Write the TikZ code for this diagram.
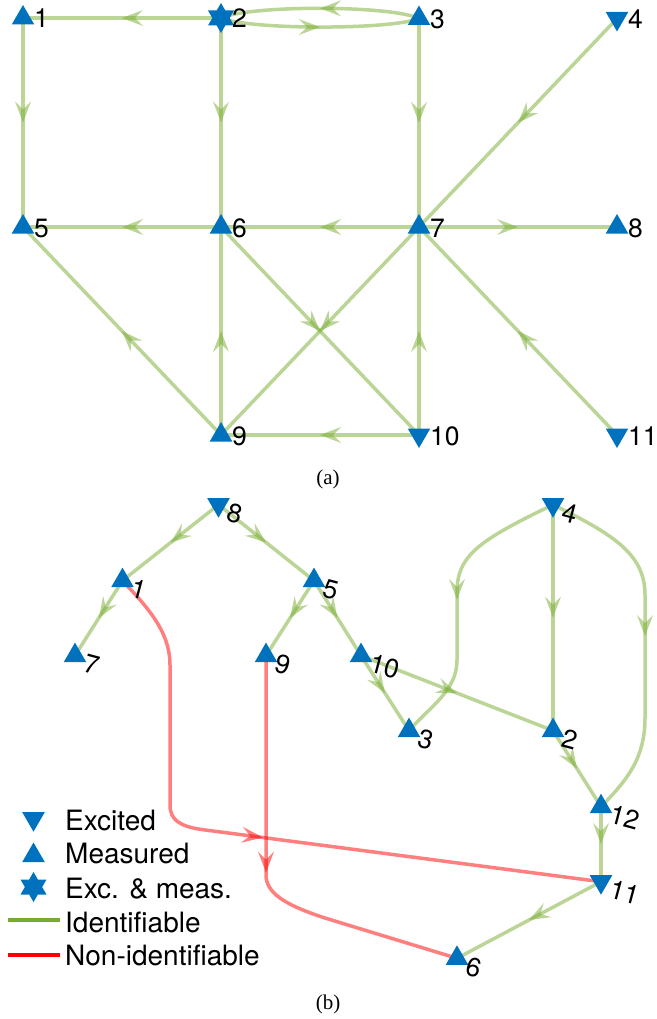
\documentclass[tikz,border=0pt]{standalone}
\usepackage{fontspec}
\setmainfont{TeX Gyre Heros}
\newfontfamily\capfont{Liberation Serif}
\usetikzlibrary{shapes.geometric,decorations.markings}
\definecolor{mblue}{HTML}{0072BD}
\definecolor{egreen}{RGB}{119,172,48}
\definecolor{ered}{RGB}{255,0,0}
\tikzset{
  edgeline/.style={line width=3.5pt, draw opacity=0.5},
  gedge/.style={edgeline, draw=egreen},
  redge/.style={edgeline, draw=ered},
  gmid/.style={postaction={decorate, decoration={markings, mark=at position #1 with {\fill[egreen, fill opacity=0.5] (0pt,0pt) -- (-21pt,8pt) -- (-13pt,0pt) -- (-21pt,-8pt) -- cycle;}}}},
  rmid/.style={postaction={decorate, decoration={markings, mark=at position #1 with {\fill[ered, fill opacity=0.5] (0pt,0pt) -- (-21pt,8pt) -- (-13pt,0pt) -- (-21pt,-8pt) -- cycle;}}}},
  meas/.style={regular polygon, regular polygon sides=3, minimum size=26pt, inner sep=0pt, outer sep=0pt, fill=mblue},
  exci/.style={meas, shape border rotate=180},
  excmeas/.style={star, star points=6, star point ratio=1.732, minimum size=30pt, inner sep=0pt, outer sep=0pt, fill=mblue},
  tlab/.style={anchor=base west, inner sep=0pt, font=\fontsize{26.5}{30}\selectfont},
  blab/.style={tlab, rotate=-15},
  legtext/.style={anchor=base west, inner sep=0pt, font=\fontsize{28}{32}\selectfont},
  legline/.style={line width=4pt},
  capt/.style={inner sep=0pt, font=\capfont\fontsize{21}{24}\selectfont},
}
\begin{document}
\begin{tikzpicture}[x=1pt,y=-1pt]
\useasboundingbox (0,0) rectangle (656,1019);
% ---------- (a) coordinates
\coordinate (t1) at (23,18);
\coordinate (t2) at (221,18);
\coordinate (t3) at (419,18.5);
\coordinate (t4) at (617,18.5);
\coordinate (t5) at (23,227);
\coordinate (t6) at (221,227);
\coordinate (t7) at (419,227);
\coordinate (t8) at (617,227);
\coordinate (t9) at (221,435);
\coordinate (t10) at (419,435);
\coordinate (t11) at (617,435);
% ---------- (a) edges
\draw[gedge,gmid=0.5] (t2) -- (t1);
\draw[gedge,gmid=0.5] (t1) -- (t5);
\draw[gedge,gmid=0.5] (t2) -- (t6);
\draw[gedge,gmid=0.5] (t3) .. controls (390,5) and (250,5) .. (t2);
\draw[gedge,gmid=0.5] (t2) .. controls (250,30) and (390,30) .. (t3);
\draw[gedge,gmid=0.5] (t3) -- (t7);
\draw[gedge,gmid=0.5] (t4) -- (t7);
\draw[gedge,gmid=0.5] (t6) -- (t5);
\draw[gedge,gmid=0.5] (t7) -- (t6);
\draw[gedge,gmid=0.5] (t7) -- (t8);
\draw[gedge,gmid=0.5] (t9) -- (t5);
\draw[gedge,gmid=0.5] (t9) -- (t6);
\draw[gedge,gmid=0.5] (t6) -- (t10);
\draw[gedge,gmid=0.5] (t7) -- (t9);
\draw[gedge,gmid=0.5] (t10) -- (t7);
\draw[gedge,gmid=0.5] (t10) -- (t9);
\draw[gedge,gmid=0.5] (t11) -- (t7);
% ---------- (a) markers
\node[meas] (mt1) at (t1) {};
\node[excmeas] (mt2) at (t2) {};
\node[meas] (mt3) at (t3) {};
\node[exci] (mt4) at (t4) {};
\node[meas] (mt5) at (t5) {};
\node[meas] (mt6) at (t6) {};
\node[meas] (mt7) at (t7) {};
\node[meas] (mt8) at (t8) {};
\node[meas] (mt9) at (t9) {};
\node[exci] (mt10) at (t10) {};
\node[exci] (mt11) at (t11) {};
% ---------- (a) labels
\node[tlab] (lt1) at (34,28) {1};
\node[tlab] (lt2) at (232,28) {2};
\node[tlab] (lt3) at (430,28.5) {3};
\node[tlab] (lt4) at (628,28.5) {4};
\node[tlab] (lt5) at (34,237) {5};
\node[tlab] (lt6) at (232,237) {6};
\node[tlab] (lt7) at (430,237) {7};
\node[tlab] (lt8) at (628,237) {8};
\node[tlab] (lt9) at (232,445) {9};
\node[tlab] (lt10) at (430,445) {10};
\node[tlab] (lt11) at (628,445) {11};
\node[capt] (capa) at (328,479) {(a)};
% ---------- (b) coordinates
\coordinate (b1) at (122.5,580.6);
\coordinate (b2) at (553,730.6);
\coordinate (b3) at (409,730.6);
\coordinate (b4) at (553,504.7);
\coordinate (b5) at (314,580.6);
\coordinate (b6) at (457,958.3);
\coordinate (b7) at (75,655.6);
\coordinate (b8) at (218.5,504.7);
\coordinate (b9) at (266,655.6);
\coordinate (b10) at (361,655.6);
\coordinate (b11) at (601,881.7);
\coordinate (b12) at (601,806.7);
% ---------- (b) edges
\draw[redge,rmid=-341pt] (b1) .. controls (145,605) and (170,630) .. (170,665) -- (170,805) .. controls (170,820) and (180,826) .. (200,829.3) -- (b11);
\draw[redge,rmid=217pt] (b9) -- (266,875) .. controls (266,893) and (285,905) .. (325,918) -- (b6);
\draw[gedge,gmid=0.5] (b8) -- (b1);
\draw[gedge,gmid=0.5] (b8) -- (b5);
\draw[gedge,gmid=0.5] (b1) -- (b7);
\draw[gedge,gmid=0.5] (b5) -- (b9);
\draw[gedge,gmid=0.5] (b5) -- (b10);
\draw[gedge,gmid=0.5] (b10) -- (b3);
\draw[gedge,gmid=0.5] (b10) -- (b2);
\draw[gedge,gmid=-148pt] (b4) .. controls (480,540) and (457,555) .. (457,592) -- (457,660) .. controls (457,690) and (432,705) .. (b3);
\draw[gedge,gmid=0.5] (b4) -- (b2);
\draw[gedge,gmid=-184pt] (b4) .. controls (615,535) and (645,555) .. (645,595) -- (645,718) .. controls (645,760) and (625,782) .. (b12);
\draw[gedge,gmid=0.5] (b2) -- (b12);
\draw[gedge,gmid=0.5] (b12) -- (b11);
\draw[gedge,gmid=0.5] (b11) -- (b6);
% ---------- (b) markers
\node[meas] (mb1) at (b1) {};
\node[meas] (mb2) at (b2) {};
\node[meas] (mb3) at (b3) {};
\node[exci] (mb4) at (b4) {};
\node[meas] (mb5) at (b5) {};
\node[meas] (mb6) at (b6) {};
\node[meas] (mb7) at (b7) {};
\node[exci] (mb8) at (b8) {};
\node[meas] (mb9) at (b9) {};
\node[meas] (mb10) at (b10) {};
\node[exci] (mb11) at (b11) {};
\node[meas] (mb12) at (b12) {};
% ---------- (b) labels
\node[blab] (lb1) at (129.5,596.6) {1};
\node[blab] (lb2) at (560,746.6) {2};
\node[blab] (lb3) at (416,746.6) {3};
\node[blab] (lb4) at (560,520.7) {4};
\node[blab] (lb5) at (321,596.6) {5};
\node[blab] (lb6) at (464,974.3) {6};
\node[blab] (lb7) at (82,671.6) {7};
\node[blab] (lb8) at (225.5,520.7) {8};
\node[blab] (lb9) at (273,671.6) {9};
\node[blab] (lb10) at (368,671.6) {10};
\node[blab] (lb11) at (608,897.7) {11};
\node[blab] (lb12) at (608,822.7) {12};
% ---------- legend
\node[exci] (lgm1) at (33.5,818.7) {};
\node[meas] (lgm2) at (33.5,855.5) {};
\node[excmeas] (lgm3) at (33.5,887) {};
\coordinate (lga) at (8,920);
\coordinate (lgb) at (60,920);
\coordinate (lgc) at (8,955);
\coordinate (lgd) at (60,955);
\draw[legline, egreen] (lga) -- (lgb);
\draw[legline, ered] (lgc) -- (lgd);
\node[legtext] (lgt1) at (65,830) {Excited};
\node[legtext] (lgt2) at (65,863) {Measured};
\node[legtext] (lgt3) at (65,898) {Exc. \& meas.};
\node[legtext] (lgt4) at (65,932) {Identifiable};
\node[legtext] (lgt5) at (65,965) {Non-identifiable};
\node[capt] (capb) at (328,1004) {(b)};
\end{tikzpicture}
\end{document}
